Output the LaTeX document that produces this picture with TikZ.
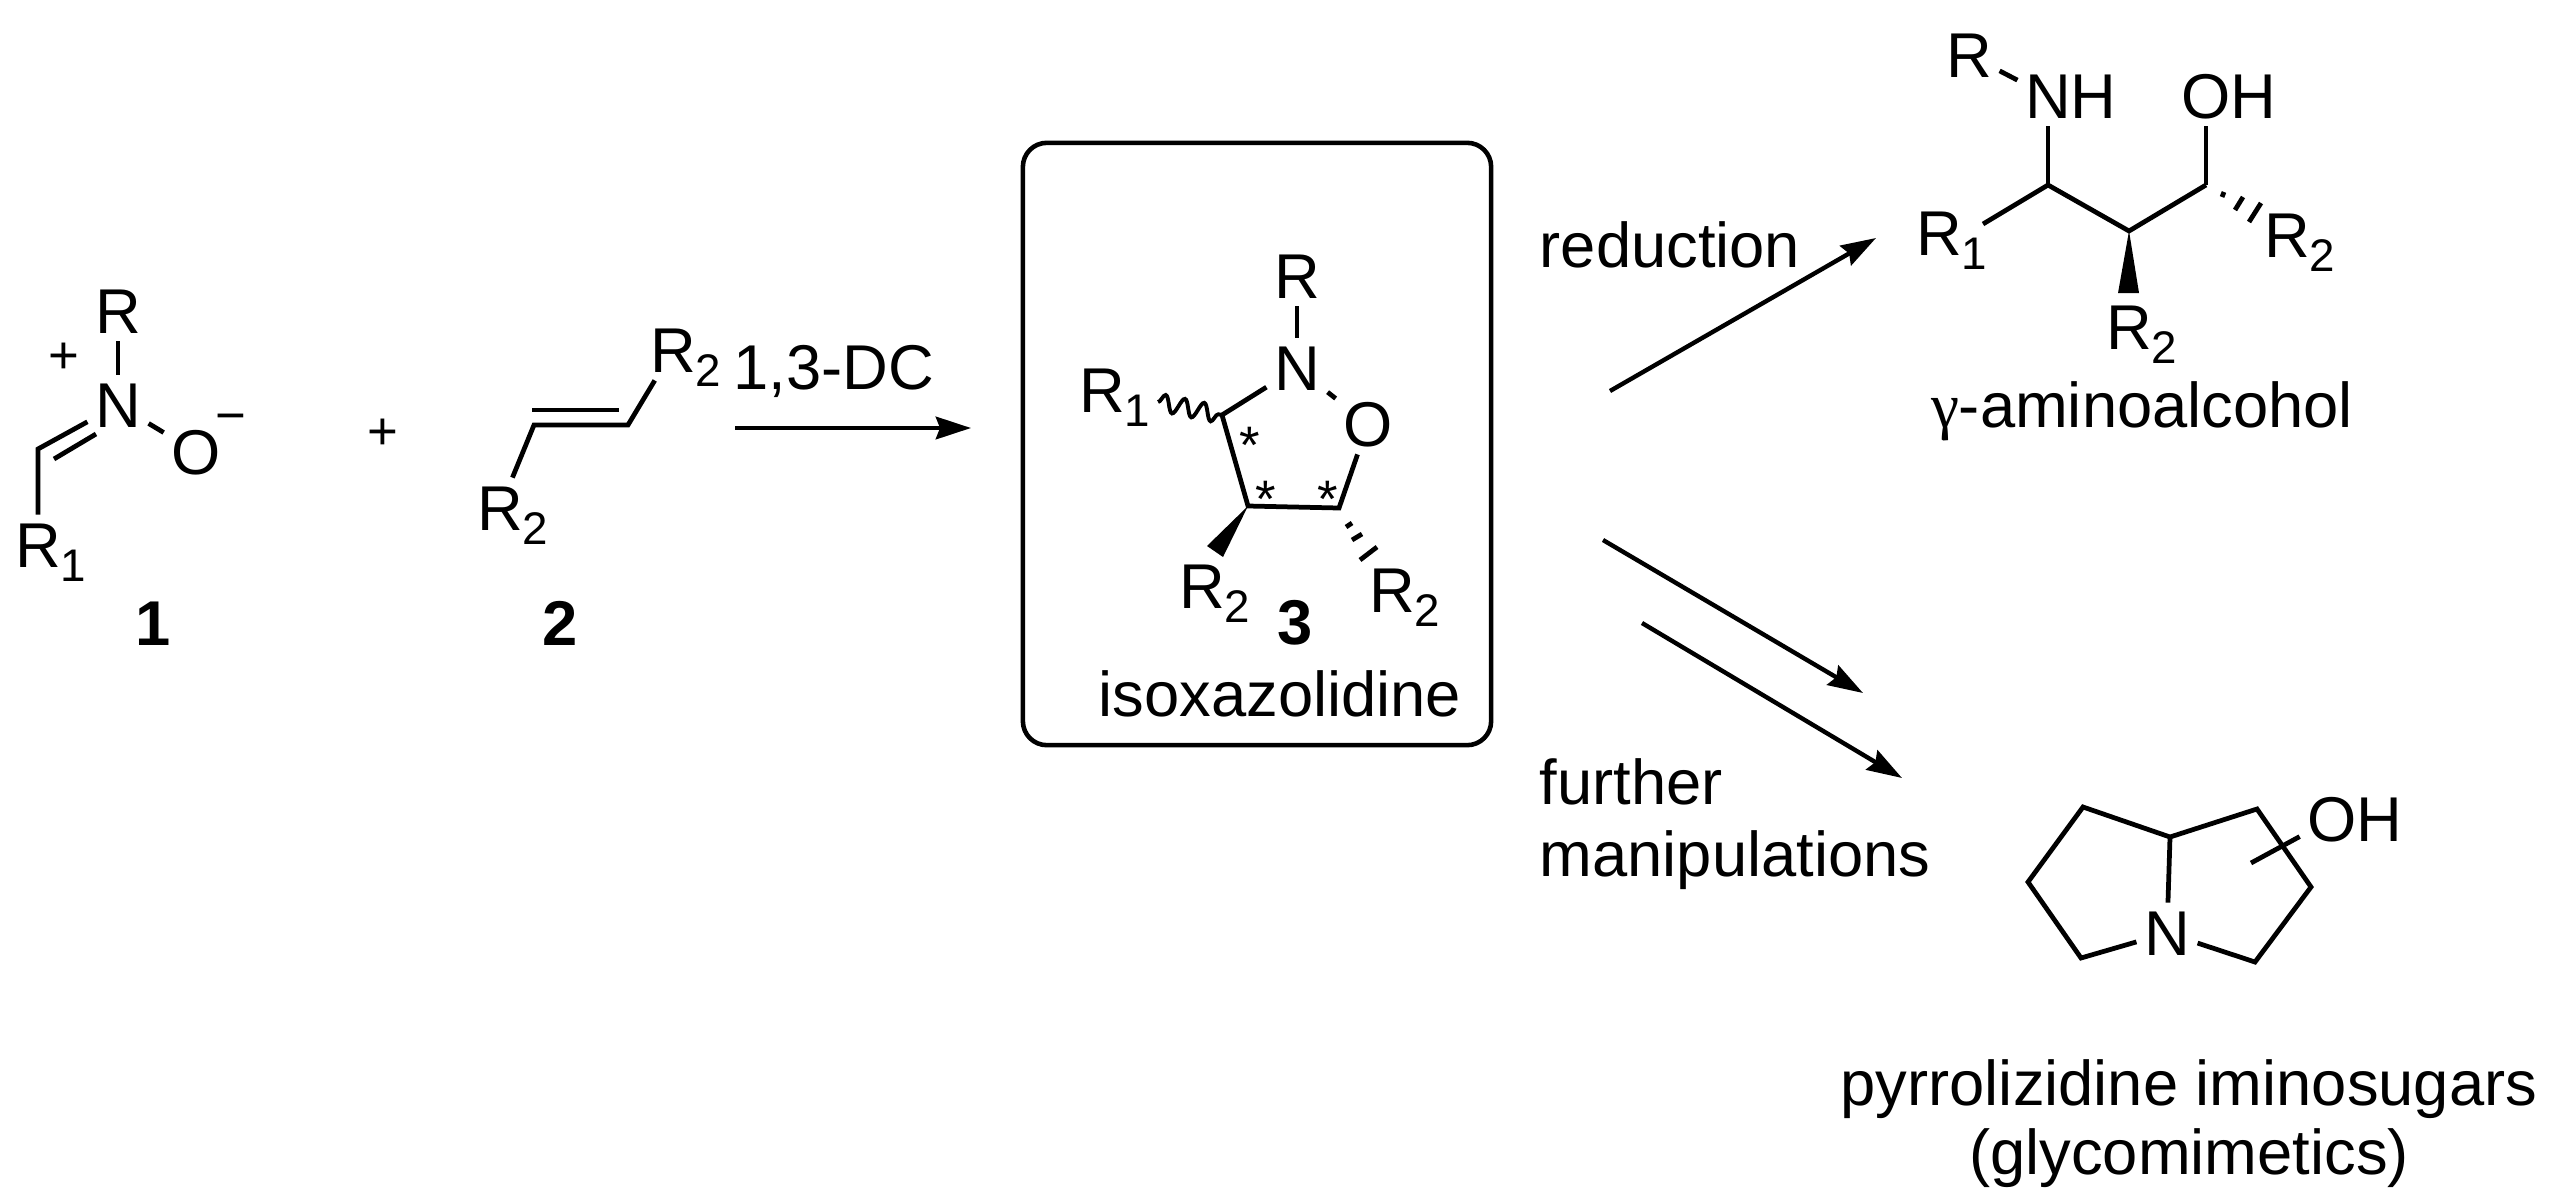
\documentclass[tikz,border=0pt]{standalone}
\usepackage{fontspec}
\setmainfont{Liberation Sans}
\newfontfamily\greekfont{Liberation Serif}
\usetikzlibrary{arrows.meta,decorations.pathmorphing}
\def\Rsub#1{R\rlap{\smash{\raisebox{-3.8pt}{\fontsize{13}{13}\selectfont #1}}}}
\tikzset{
	atom/.style={font=\fontsize{18}{20}\selectfont, inner sep=2pt, text height=12.9pt, text depth=0pt},
	txt/.style={atom, inner sep=0pt},
	num/.style={txt, font=\fontsize{18}{20}\selectfont\bfseries},
	sign/.style={txt, font=\fontsize{15}{16}\selectfont},
	mark star/.style={txt, font=\fontsize{15}{16}\selectfont},
	bond/.style={line width=1.35pt, line join=miter},
	rxn/.style={line width=1.25pt, -{Stealth[length=10pt,width=6.4pt,inset=1.2pt]}}
}

\begin{document}
\begin{tikzpicture}[x=0.01cm, y=-0.01cm]
	%%%%% START %%%%%
	\useasboundingbox (0, 0) rectangle (2558, 1200);
	
	% nitrone 1
	\node[atom] (nR) at (118, 311) {R};
	\node[atom] (nN) at (118, 405) {N};
	\node[atom] (nO) at (196, 452) {O};
	\node[atom] (nRa) at (38, 545) {\Rsub{1}};
	\node[sign] (nPlus) at (64, 351) {+};
	\node[sign] (nMinus) at (231, 411) {−};
	\node[num] (nNum) at (153, 623) {1};
	\coordinate (nC) at (38, 449);
	\coordinate (nDa) at (54, 459);
	\coordinate (nDb) at (96, 434);
	\draw[bond] (nR) -- (nN);
	\draw[bond] (nN) -- (nO);
	\draw[bond] (nN) -- (nC) -- (nRa);
	\draw[bond] (nDa) -- (nDb);
	
	\node[sign] (plus) at (383, 427) {+};
	
	% alkene 2
	\node[atom] (aRa) at (500, 508) {\Rsub{2}};
	\node[atom] (aRb) at (673, 350) {\Rsub{2}};
	\node[num] (aNum) at (560, 623) {2};
	\coordinate (aCa) at (534, 425);
	\coordinate (aCb) at (628, 425);
	\coordinate (aDa) at (532, 410);
	\coordinate (aDb) at (619, 410);
	\draw[bond] (aRa) -- (aCa) -- (aCb) -- (aRb);
	\draw[bond] (aDa) -- (aDb);
	
	\node[txt] (dc) at (834, 367) {1,3-DC};
	\coordinate (dcA) at (735, 428);
	\coordinate (dcB) at (971, 428);
	\draw[rxn] (dcA) -- (dcB);
	
	% isoxazolidine 3
	\node[draw, line width=1.3pt, rounded corners=0.24cm, minimum width=4.68cm, minimum height=6.02cm] (box) at (1257, 444) {};
	\node[atom] (iR) at (1297, 276) {R};
	\node[atom] (iN) at (1297, 368) {N};
	\node[atom] (iO) at (1368, 424) {O};
	\node[atom] (iRa) at (1102, 390) {\Rsub{1}};
	\node[atom] (iRb) at (1202, 586) {\Rsub{2}};
	\node[atom] (iRc) at (1392, 590) {\Rsub{2}};
	\node[num] (iNum) at (1295, 622) {3};
	\node[txt] (iName) at (1280, 694) {isoxazolidine};
	\node[mark star] (iSa) at (1250, 441) {*};
	\node[mark star] (iSb) at (1266, 495) {*};
	\node[mark star] (iSc) at (1328, 495) {*};
	\coordinate (iCa) at (1222, 415);
	\coordinate (iCb) at (1248, 506);
	\coordinate (iCc) at (1339, 508);
	\coordinate (iW) at (1158, 402);
	\coordinate (iWa) at (1207, 546);
	\coordinate (iWb) at (1223, 557);
	\draw[bond] (iR) -- (iN);
	\draw[bond] (iN) -- (iO);
	\draw[bond] (iN) -- (iCa) -- (iCb) -- (iCc) -- (iO);
	\draw[line width=1.1pt, decorate, decoration={snake, segment length=5.6pt, amplitude=2.4pt}] (iW) -- (iCa);
	\fill (iCb) -- (iWa) -- (iWb) -- cycle;
	\draw[bond] (1346, 527) -- (1352, 523);
	\draw[bond] (1352, 540) -- (1362, 534);
	\draw[bond] (1360, 560) -- (1377, 547);
	
	\coordinate (redA) at (1610, 391);
	\coordinate (redB) at (1876, 238);
	\draw[rxn] (redA) -- (redB);
	\node[txt] (red) at (1670, 245) {reduction};
	
	\coordinate (manA) at (1603, 540);
	\coordinate (manB) at (1863, 693);
	\coordinate (manC) at (1642, 623);
	\coordinate (manD) at (1902, 778);
	\draw[rxn] (manA) -- (manB);
	\draw[rxn] (manC) -- (manD);
	\node[txt, anchor=west] (man) at (1539, 782) {further};
	\node[txt, anchor=west] (manb) at (1539, 854) {manipulations};
	
	% aminoalcohol
	\node[atom] (gR) at (1969, 55) {R};
	\node[atom] (gN) at (2048, 96) {N\rlap{H}};
	\node[atom] (gO) at (2206, 96) {O\rlap{H}};
	\node[atom] (gRa) at (1939, 233) {\Rsub{1}};
	\node[atom] (gRb) at (2129, 327) {\Rsub{2}};
	\node[atom] (gRc) at (2287, 235) {\Rsub{2}};
	\node[txt] (gName) at (2142, 405) {{\greekfont γ}-aminoalcohol};
	\coordinate (gS) at (1983, 224);
	\coordinate (gCa) at (2048, 185);
	\coordinate (gCb) at (2129, 231);
	\coordinate (gCc) at (2206, 185);
	\coordinate (gWa) at (2118, 293);
	\coordinate (gWb) at (2139, 293);
	\draw[bond] (gR) -- (gN);
	\draw[bond] (gN) -- (gCa);
	\draw[bond] (gO) -- (gCc);
	\draw[bond] (gS) -- (gCa) -- (gCb) -- (gCc);
	\fill (gCb) -- (gWa) -- (gWb) -- cycle;
	\draw[bond] (2224, 192) -- (2222, 197);
	\draw[bond] (2243, 197) -- (2235, 210);
	\draw[bond] (2261, 203) -- (2249, 222);
	
	% pyrrolizidine
	\node[atom] (pN) at (2167, 933) {N};
	\node[atom] (pO) at (2332, 819) {O\rlap{H}};
	\node[txt] (pName) at (2189, 1083) {pyrrolizidine iminosugars};
	\node[txt] (pNameb) at (2189, 1152) {(glycomimetics)};
	\coordinate (pA) at (2170, 837);
	\coordinate (pB) at (2083, 807);
	\coordinate (pC) at (2028, 882);
	\coordinate (pD) at (2081, 958);
	\coordinate (pE) at (2257, 809);
	\coordinate (pF) at (2311, 887);
	\coordinate (pG) at (2255, 962);
	\coordinate (pH) at (2251, 863);
	\draw[bond] (pN) -- (pA);
	\draw[bond] (pN) -- (pD) -- (pC) -- (pB) -- (pA) -- (pE) -- (pF) -- (pG) -- (pN);
	\draw[bond] (pH) -- (pO);
	
	%%%%% END %%%%%
\end{tikzpicture}
\end{document}
